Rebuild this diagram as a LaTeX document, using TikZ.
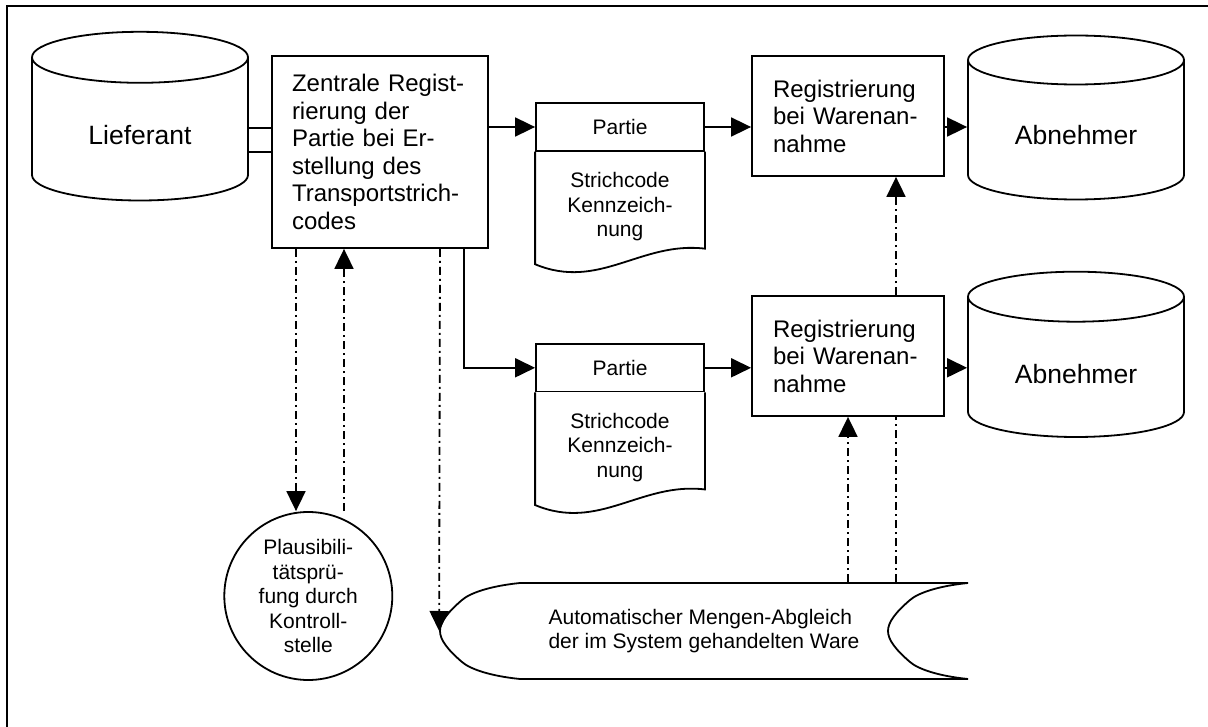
\documentclass[tikz,border=0pt]{standalone}
\usepackage{fontspec}
\setmainfont{Liberation Sans}
\usetikzlibrary{arrows.meta,calc}

% font sizes used in the chart
\newcommand\fbig{\fontsize{26.5}{30}\selectfont}
\newcommand\fmid{\fontsize{24}{27.5}\selectfont}
\newcommand\fsmall{\fontsize{21}{24.5}\selectfont}

% drum (database cylinder): centre x, x radius, top y, bottom y, y radius
\newcommand\drumoutline[5]{%
  \draw (#1-#2,#3) -- (#1-#2,#4) arc[start angle=180,end angle=360,x radius=#2,y radius=#5] -- (#1+#2,#3);
  \draw (#1,#3) ellipse [x radius=#2, y radius=#5];
}

\tikzset{
  box/.style={draw, rectangle, inner xsep=20pt, inner ysep=0pt, align=left, font=\fmid},
  label/.style={inner sep=0pt, align=center},
  dd/.style={dash pattern=on 8pt off 4pt on 2pt off 4pt},
  >={Triangle[length=20pt,width=19pt]}
}

\begin{document}
\begin{tikzpicture}[x=1pt, y=1pt, line width=1.8pt]
\useasboundingbox (0,0) rectangle (1208,-727);

% outer frame
\draw (7,-727) -- (7,-6) -- (1208,-6);

% central registration
\node[box, text width=176pt, minimum height=192pt] (central) at (380,-152)
  {Zentrale Regist-\\rierung der\\Partie bei Er-\\stellung des\\Transportstrich-\\codes};

% supplier
\drumoutline{140}{108}{-57.3}{-175}{25.5}
\node[label, minimum width=216pt, font=\fbig] (lief) at (140,-135.5) {Lieferant};

% receiving registrations
\node[box, text width=150pt, inner xsep=21pt, minimum height=120pt] (reg1) at (848,-116)
  {Registrierung\\bei Warenan-\\nahme};
\node[box, text width=150pt, inner xsep=21pt, minimum height=120pt] (reg2) at (848,-356)
  {Registrierung\\bei Warenan-\\nahme};

% customers
\drumoutline{1076}{108}{-60}{-175}{24.5}
\node[label, minimum width=216pt, font=\fbig] (abn1) at (1076,-135.5) {Abnehmer};
\drumoutline{1076}{108}{-296.7}{-412}{25}
\node[label, minimum width=216pt, font=\fbig] (abn2) at (1076,-373.7) {Abnehmer};

% lot documents
\node[draw, minimum width=168pt, minimum height=47.5pt, inner sep=0pt, font=\fsmall] (p1) at (620,-127) {Partie};
\draw (p1.south west) -- ++(0,-112.6) .. controls +(64,-26.7) and +(-64,7.7) .. ($(p1.south east)+(0,-97)$) -- (p1.south east);
\node[label, font=\fsmall] (s1) at (620,-206.7) {Strichcode\\Kennzeich-\\nung};

\node[draw, minimum width=168pt, minimum height=47.5pt, inner sep=0pt, font=\fsmall] (p2) at (620,-367.8) {Partie};
\draw (p2.south west) -- ++(0,-112.6) .. controls +(64,-26.7) and +(-64,7.7) .. ($(p2.south east)+(0,-97)$) -- (p2.south east);
\node[label, font=\fsmall] (s2) at (620,-447.4) {Strichcode\\Kennzeich-\\nung};

% plausibility check
\node[draw, circle, minimum size=168pt, inner sep=0pt, align=center, font=\fsmall] (chk) at (308.3,-596)
  {Plausibili-\\tätsprü-\\fung durch\\Kontroll-\\stelle};

% automatic quantity reconciliation (stored data)
\node[inner sep=0pt, minimum width=528pt, minimum height=96pt, align=left, font=\fsmall] (band) at (704,-631)
  {Automatischer Mengen-Abgleich\\der im System gehandelten Ware};
\draw (520,-583) -- (968,-583)
  .. controls (938,-586) and (918,-593) .. (910,-600)
  .. controls (896,-612) and (888,-622) .. (888,-631)
  .. controls (888,-640) and (896,-650) .. (910,-662)
  .. controls (918,-669) and (938,-676) .. (968,-679)
  -- (520,-679)
  .. controls (490,-676) and (470,-669) .. (462,-662)
  .. controls (448,-650) and (440,-640) .. (440,-631)
  .. controls (440,-622) and (448,-612) .. (462,-600)
  .. controls (470,-593) and (490,-586) .. (520,-583) -- cycle;

% material flow
\draw ([yshift=24pt]central.west) -- ([yshift=24pt]central.west -| lief.east);
\draw (central.west) -- (central.west -| lief.east);
\draw[->] (p1.west -| central.east) -- (p1.west);
\draw[->] (p1.east) -- (p1.east -| reg1.west);
\draw[->] (reg1.east |- p1.east) -- (p1.east -| abn1.west);
\draw[->] ([xshift=84pt]central.south) |- (p2.west);
\draw[->] (p2.east) -- (p2.east -| reg2.west);
\draw[->] (reg2.east |- p2.east) -- (p2.east -| abn2.west);

% information flow
\draw[dd,->] ([xshift=-84pt]central.south) -- ([xshift=-84pt]central.south |- chk.north);
\draw[dd,->] ([xshift=-36pt]central.south |- chk.north) -- ([xshift=-36pt]central.south);
\draw[dd,->] ([xshift=60pt]central.south) -- (band.west);
\draw[dd,->] (reg2.south |- band.north) -- (reg2.south);
\draw[dd] ([xshift=48pt]reg2.south |- band.north) -- ([xshift=48pt]reg2.south);
\draw[dd,->] ([xshift=48pt]reg2.north) -- ([xshift=48pt]reg1.south);
\end{tikzpicture}
\end{document}
